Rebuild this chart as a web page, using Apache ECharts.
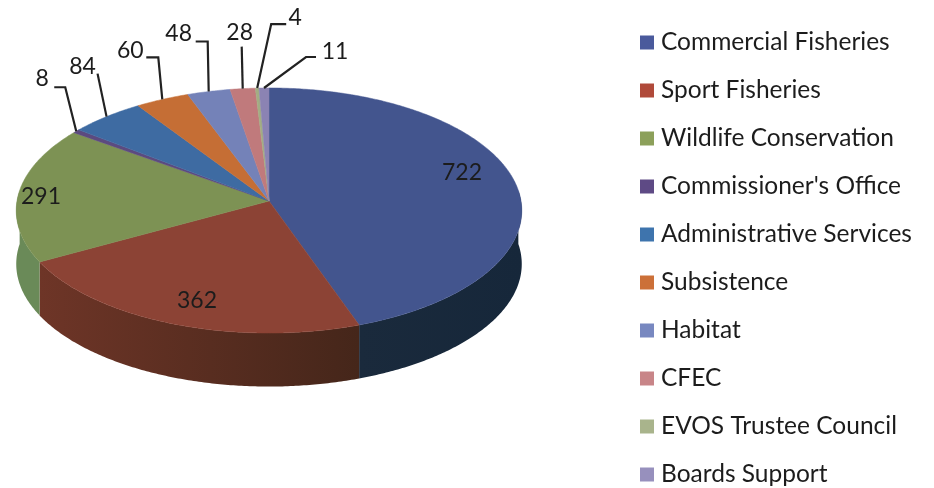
<!DOCTYPE html>
<html>
<head>
<meta charset="utf-8">
<style>
html, body { margin: 0; padding: 0; background: #fff; }
#main { width: 934px; height: 488px; }
</style>
<script src="https://cdn.jsdelivr.net/npm/echarts@6/dist/echarts.min.js"></script>
</head>
<body>
<div id="main"></div>
<script>
// categories and values
var categories = ['Commercial Fisheries', 'Sport Fisheries', 'Wildlife Conservation', "Commissioner's Office",
    'Administrative Services', 'Subsistence', 'Habitat', 'CFEC', 'EVOS Trustee Council', 'Boards Support'];
var values = [722, 362, 291, 8, 84, 60, 48, 28, 4, 11];

// colours
var legendColors = ['#4a5a9c', '#b04a3a', '#8ca05a', '#5e4a85', '#3e74ad', '#cc7038', '#7888c0', '#c88588', '#a9b48c', '#9790bd'];
var topColors = ['#43558e', '#8c4335', '#7d9254', '#5c4a7f', '#3e6ba2', '#c56e35', '#7482b8', '#c07a7c', '#a2ad83', '#8b83b3'];
// side wall, left end and right end of each slice
var wallLeft = ['#1a2a3c', '#6e3527', '#6a8a58', '#3a2d50', '#26425f', '#7a4520', '#475073', '#77494b', '#646b50', '#55506f'];
var wallRight = ['#16273a', '#45261a', '#6a8a58', '#3a2d50', '#26425f', '#7a4520', '#475073', '#77494b', '#646b50', '#55506f'];

// label placement, offsets from the point where the leader meets the slice edge
var insideLabels = { 0: [462, 173], 1: [197, 301], 2: [41, 197] };
var leaders = {
    3: { path: [[-11, -44], [-22, -44]], text: [-34, -53] },
    4: { path: [[-9, -43]], text: [-24, -50] },
    5: { path: [[-4, -42], [-16, -42]], text: [-32, -49] },
    6: { path: [[-1, -50], [-13, -50]], text: [-30, -58] },
    7: { path: [[-1, -42]], text: [-3, -56] },
    8: { path: [[14, -64], [29, -64]], text: [38, -71] },
    9: { path: [[42, -31], [52, -31]], text: [71, -36] }
};

// the pie is drawn in true perspective, slices meet above the middle of the ellipse
var cx = 269, cy = 201, rx = 252, ry = 121.8, persp = 0.0776, depth = 53.5;
var textFont = 'Lato';
var total = values.reduce(function (a, b) { return a + b; }, 0);

function angleOf(v) {
    return echarts.number.linearMap(v, [0, total], [0, Math.PI * 2]);
}

function project(angle, bottom) {
    var u = Math.sin(angle), v = -Math.cos(angle), w = 1 - persp * v;
    return [cx + rx * u / w, cy + ry * v / w + (bottom ? depth : 0)];
}

function arcPoints(a0, a1, bottom) {
    var pts = [], n = Math.max(2, Math.ceil((a1 - a0) / 0.01));
    for (var i = 0; i <= n; i++) {
        pts.push(project(a0 + (a1 - a0) * i / n, bottom));
    }
    return pts;
}

function textEl(str, x, y) {
    return {
        type: 'text',
        style: { text: str, x: x, y: y, fill: '#1c1c1c', fontSize: 23, fontFamily: textFont, align: 'center', verticalAlign: 'middle' }
    };
}

function renderSlice(params, api) {
    var idx = params.seriesIndex;
    var before = 0;
    for (var i = 0; i < idx; i++) before += values[i];
    var value = api.value(0);
    var a0 = angleOf(before), a1 = angleOf(before + value);
    var children = [];

    // side wall, front half only
    var w0 = Math.max(a0, Math.PI * 85 / 180), w1 = Math.min(a1, Math.PI * 275 / 180);
    if (w1 > w0) {
        children.push({
            type: 'polygon',
            shape: { points: arcPoints(w0, w1, false).concat(arcPoints(w0, w1, true).reverse()) },
            style: {
                fill: new echarts.graphic.LinearGradient(0, 0, 1, 0, [
                    { offset: 0, color: wallLeft[idx] },
                    { offset: 1, color: wallRight[idx] }
                ])
            }
        });
    }

    // top face
    children.push({
        type: 'polygon',
        shape: { points: [[cx, cy]].concat(arcPoints(a0, a1, false)) },
        style: { fill: topColors[idx], stroke: topColors[idx], lineWidth: 0.5 }
    });

    // value label
    if (insideLabels[idx]) {
        children.push(textEl(String(value), insideLabels[idx][0], insideLabels[idx][1]));
    } else {
        var anchor = project((a0 + a1) / 2, false);
        var ld = leaders[idx];
        var points = [anchor].concat(ld.path.map(function (p) {
            return [anchor[0] + p[0], anchor[1] + p[1]];
        }));
        children.push({
            type: 'polyline',
            shape: { points: points },
            style: { stroke: '#222', lineWidth: 2.2, fill: null }
        });
        children.push(textEl(String(value), anchor[0] + ld.text[0], anchor[1] + ld.text[1]));
    }
    return { type: 'group', children: children };
}

var chart = echarts.init(document.getElementById('main'));
chart.setOption({
    backgroundColor: '#fff',
    animation: false,
    color: topColors,
    legend: {
        orient: 'vertical',
        left: 640,
        top: 30,
        height: 700,
        padding: 0,
        icon: 'rect',
        itemWidth: 14,
        itemHeight: 14,
        itemGap: 23,
        selectedMode: false,
        textStyle: { fontFamily: textFont, fontSize: 24.5, color: '#1c1c1c', padding: [0, 0, 0, 2], lineHeight: 24 },
        data: categories.map(function (name, i) {
            return { name: name, itemStyle: { color: legendColors[i] } };
        })
    },
    series: categories.map(function (name, i) {
        return {
            type: 'custom',
            name: name,
            coordinateSystem: 'none',
            silent: true,
            renderItem: renderSlice,
            data: [[values[i]]]
        };
    })
});
</script>
</body>
</html>
